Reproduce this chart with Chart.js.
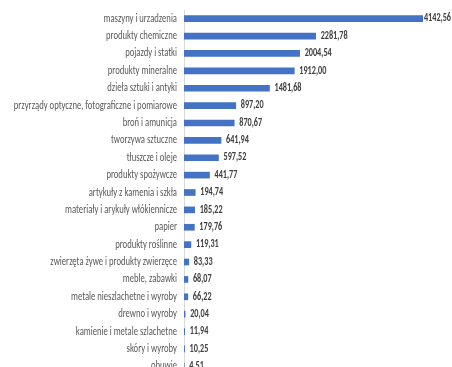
<!DOCTYPE html>
<html>
<head>
<meta charset="utf-8">
<script src="https://cdn.jsdelivr.net/npm/chart.js@4.4.0/dist/chart.umd.min.js"></script>
<style>
html,body{margin:0;padding:0;background:#fff;overflow:hidden;}
#wrap{position:relative;width:452px;height:375px;}
</style>
</head>
<body>
<div id="wrap"><canvas id="c"></canvas></div>
<script>
const categories = [
  "maszyny i urzadzenia",
  "produkty chemiczne",
  "pojazdy i statki",
  "produkty mineralne",
  "dzieła sztuki i antyki",
  "przyrządy optyczne, fotograficzne i pomiarowe",
  "broń i amunicja",
  "tworzywa sztuczne",
  "tłuszcze i oleje",
  "produkty spożywcze",
  "artykuły z kamenia i szkła",
  "materiały i arykuły włókiennicze",
  "papier",
  "produkty roślinne",
  "zwierzęta żywe i produkty zwierzęce",
  "meble, zabawki",
  "metale nieszlachetne i wyroby",
  "drewno i wyroby",
  "kamienie i metale szlachetne",
  "skóry i wyroby",
  "obuwie"
];
const values = [4142.56, 2281.78, 2004.54, 1912.00, 1481.68, 897.20, 870.67, 641.94, 597.52, 441.77, 194.74, 185.22, 179.76, 119.31, 83.33, 68.07, 66.22, 20.04, 11.94, 10.25, 4.51];
const valueLabels = ["4142,56","2281,78","2004,54","1912,00","1481,68","897,20","870,67","641,94","597,52","441,77","194,74","185,22","179,76","119,31","83,33","68,07","66,22","20,04","11,94","10,25","4,51"];

const FONT = "Carlito, 'Liberation Sans', sans-serif";
const SX_TICKS = 0.72;   // horizontal squeeze of the category labels
const SX_VALUES = 0.745; // horizontal squeeze of the value labels

// draw canvas text horizontally condensed around its anchor point
const condensedText = {
  id: 'condensedText',
  beforeInit(chart) {
    const ctx = chart.ctx;
    const orig = CanvasRenderingContext2D.prototype.fillText;
    ctx._sx = SX_TICKS;
    ctx.fillText = function (text, x, y) {
      this.save();
      this.translate(x, y);
      this.scale(this._sx, 1);
      orig.call(this, text, 0, 0);
      this.restore();
    };
  }
};

const valueLabelPlugin = {
  id: 'valueLabels',
  afterDatasetsDraw(chart) {
    const ctx = chart.ctx;
    const meta = chart.getDatasetMeta(0);
    ctx.save();
    ctx._sx = SX_VALUES;
    ctx.font = "bold 11px " + FONT;
    ctx.fillStyle = "#404040";
    ctx.textBaseline = "middle";
    ctx.textAlign = "left";
    meta.data.forEach((bar, i) => {
      const t = valueLabels[i];
      const w = ctx.measureText(t).width * SX_VALUES;
      let x = bar.x + 5;
      if (x + w > chart.width - 1) x = chart.width - 1 - w;
      ctx.fillText(t, x, bar.y);
    });
    ctx._sx = SX_TICKS;
    ctx.restore();
  }
};

new Chart(document.getElementById('c'), {
  type: 'bar',
  data: {
    labels: categories,
    datasets: [{
      data: values,
      backgroundColor: '#4472C4',
      barThickness: 6
    }]
  },
  options: {
    indexAxis: 'y',
    responsive: true,
    maintainAspectRatio: false,
    animation: false,
    layout: { padding: { top: 10, bottom: 0, right: 29, left: 0 } },
    plugins: { legend: { display: false }, tooltip: { enabled: false } },
    scales: {
      x: { display: false, min: 0, max: 4142.56 },
      y: {
        afterFit(scale) { scale.width = 184; scale.paddingTop = 0; scale.paddingBottom = 0; },
        grid: { display: false, drawTicks: false },
        border: { display: true, color: '#d9d9d9', width: 1 },
        ticks: {
          padding: 7,
          color: '#595959',
          font: { family: FONT, size: 12 },
          autoSkip: false
        }
      }
    }
  },
  plugins: [condensedText, valueLabelPlugin]
});
</script>
</body>
</html>
